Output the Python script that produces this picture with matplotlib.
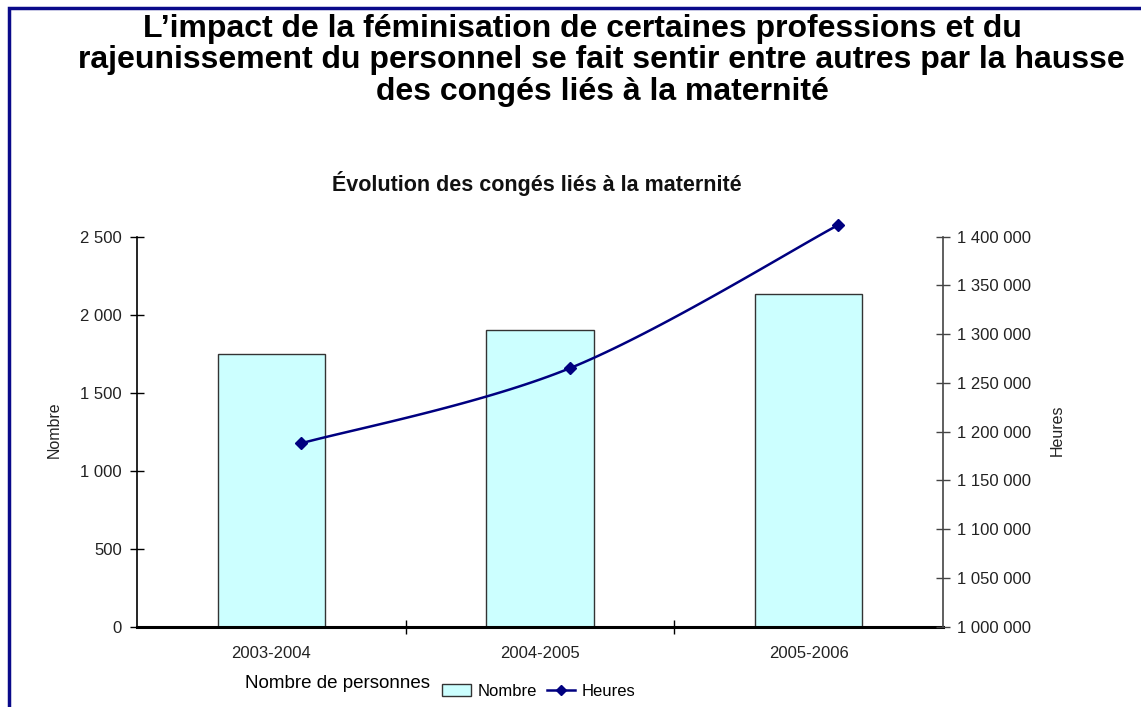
import numpy as np
import matplotlib
matplotlib.use("Agg")
import matplotlib.pyplot as plt
from matplotlib.patches import Patch, Rectangle
from matplotlib.lines import Line2D

plt.rcParams['font.family'] = ['Liberation Sans', 'DejaVu Sans']

# data
periods = ["2003-2004", "2004-2005", "2005-2006"]
nombre = [1750, 1900, 2130]
heures = [1188000, 1265000, 1412000]

left_ticks = [0, 500, 1000, 1500, 2000, 2500]
left_labels = ["0", "500", "1 000", "1 500", "2 000", "2 500"]
right_ticks = [1000000, 1050000, 1100000, 1150000, 1200000, 1250000, 1300000, 1350000, 1400000]
right_labels = ["1 000 000", "1 050 000", "1 100 000", "1 150 000", "1 200 000",
                "1 250 000", "1 300 000", "1 350 000", "1 400 000"]

title_lines = ["L\u2019impact de la féminisation de certaines professions et du",
               "rajeunissement du personnel se fait sentir entre autres par la hausse",
               "des congés liés à la maternité"]
subtitle = "Évolution des congés liés à la maternité"

bar_color = "#ccffff"
line_color = "#000080"
tick_color = "#222222"


def smooth(xs, ys, n=40):
    # catmull-rom curve through the points, like excel's smoothed line
    xs = np.asarray(xs, float)
    ys = np.asarray(ys, float)
    px = np.concatenate([[xs[0]], xs, [xs[-1]]])
    py = np.concatenate([[ys[0]], ys, [ys[-1]]])
    out_x, out_y = [], []
    for i in range(1, len(px) - 2):
        t = np.linspace(0, 1, n)
        for p, out in ((px, out_x), (py, out_y)):
            p0, p1, p2, p3 = p[i - 1], p[i], p[i + 1], p[i + 2]
            out.extend(0.5 * (2 * p1 + (-p0 + p2) * t + (2 * p0 - 5 * p1 + 4 * p2 - p3) * t ** 2
                              + (-p0 + 3 * p1 - 3 * p2 + p3) * t ** 3))
    return out_x, out_y


fig = plt.figure(figsize=(11.41, 7.07), dpi=100)
ax = fig.add_axes([137 / 1141, 1 - 626.7 / 707, 806 / 1141, 390 / 707])
ax2 = ax.twinx()

x = np.arange(len(periods))
ax.bar(x, nombre, width=0.4, color=bar_color, edgecolor="#333333", linewidth=1.0, zorder=2)
ax.set_xlim(-0.5, len(periods) - 0.5)
ax.set_ylim(0, 2500)

# the line points sit a little right of the bar centres in the original
xl = x + 0.11
sx, sy = smooth(xl, heures)
ax2.plot(sx, sy, color=line_color, linewidth=1.8, clip_on=False, zorder=3)
ax2.plot(xl, heures, linestyle="none", marker="D", markersize=6.5, color=line_color,
         clip_on=False, zorder=4)
ax2.set_ylim(1000000, 1400000)

ax.set_yticks(left_ticks)
ax.set_yticklabels(left_labels)
ax2.set_yticks(right_ticks)
ax2.set_yticklabels(right_labels)

ax.set_xticks(x)
ax.set_xticklabels(periods)
ax.set_xticks([0.5, 1.5], minor=True)
ax.tick_params(axis="x", which="major", length=0, pad=14, labelsize=12, labelcolor=tick_color)
ax.tick_params(axis="x", which="minor", direction="inout", length=10, width=1, color="black")
ax.tick_params(axis="y", direction="inout", length=10, width=1, pad=6, labelsize=12,
               labelcolor=tick_color)
ax2.tick_params(axis="y", direction="inout", length=10, width=1, pad=5, labelsize=12,
                labelcolor=tick_color, color="#444444")

for a in (ax, ax2):
    a.spines["top"].set_visible(False)
ax.spines["right"].set_visible(False)
ax2.spines["left"].set_visible(False)
ax2.spines["bottom"].set_visible(False)
ax.spines["bottom"].set_linewidth(2.2)
ax.spines["left"].set_linewidth(1.2)
ax2.spines["right"].set_color("#444444")
ax2.spines["right"].set_linewidth(1.2)

ax.set_ylabel("Nombre", fontsize=11.5, color=tick_color)
ax.yaxis.set_label_coords(-0.093, 0.504)
ax2.set_ylabel("Heures", fontsize=11.5, color=tick_color)
ax2.yaxis.set_label_coords(1.133, 0.504)

# title, one line at a time (the first line sits a little left in the original)
title_x = [582, 601, 602]
title_base = [37, 68, 100]
for line, tx, ty in zip(title_lines, title_x, title_base):
    fig.text(tx / 1141, 1 - ty / 707, line, ha="center", va="baseline", fontsize=23,
             fontweight="bold")
fig.text(537 / 1141, 1 - 183 / 707, subtitle, ha="center", va="center", fontsize=15.5,
         fontweight="bold", color="#111111")
fig.text(245 / 1141, 1 - 684 / 707, "Nombre de personnes", ha="left", va="center", fontsize=13.5)

handles = [Patch(facecolor=bar_color, edgecolor="#333333", label="Nombre"),
           Line2D([], [], color=line_color, marker="D", markersize=5, linewidth=1.8, label="Heures")]
fig.legend(handles=handles, loc="center left", bbox_to_anchor=(434 / 1141, 1 - 691 / 707),
           ncol=2, frameon=False, fontsize=12, handlelength=1.7, handletextpad=0.4,
           columnspacing=0.6, borderpad=0)

# dark blue frame round the chart area
fig.patches.append(Rectangle((9 / 1141, -0.05), 1.1, 1 - 8 / 707 + 0.05, transform=fig.transFigure,
                             fill=False, edgecolor="#0a0a8a", linewidth=2.5, clip_on=False))

fig.savefig("out.png", dpi=100)
